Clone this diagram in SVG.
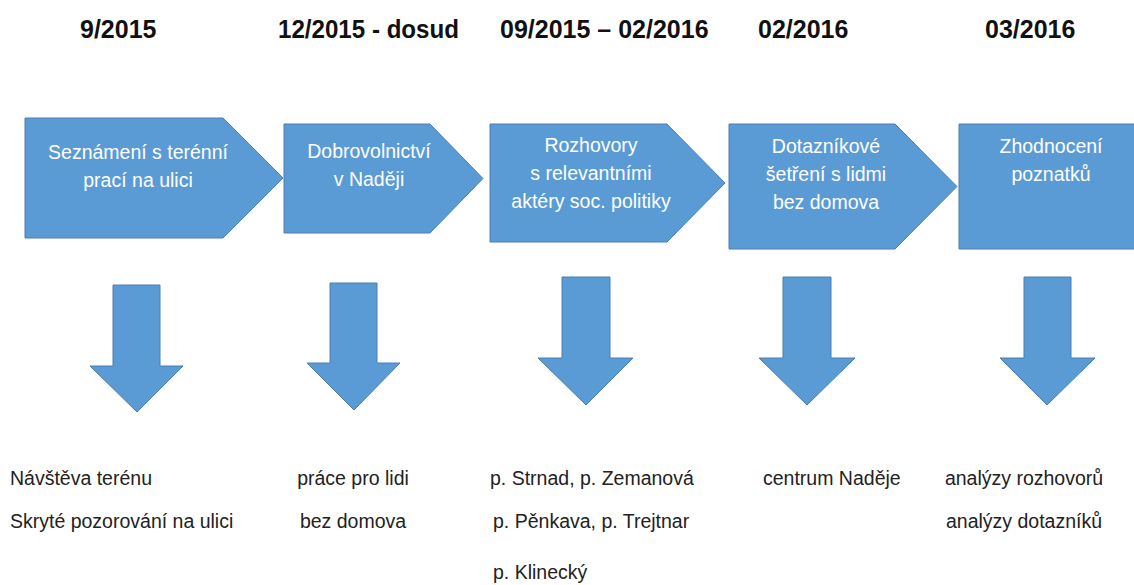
<svg xmlns="http://www.w3.org/2000/svg" width="1134" height="585" viewBox="0 0 1134 585">
<style>
.shape{fill:#5B9BD5;stroke:#4A7FB5;stroke-width:1}
.hdr{font-family:"Liberation Sans",Arial,sans-serif;font-weight:bold;font-size:25px;fill:#111}
.bx{font-family:"Liberation Sans",Arial,sans-serif;font-size:19.5px;fill:#FFFFFF;text-anchor:middle}
.bt{font-family:"Liberation Sans",Arial,sans-serif;font-size:19.5px;fill:#222}
.c{text-anchor:middle}
</style>
<rect width="1134" height="585" fill="#FFFFFF"/>
<g id="headers">
<text class="hdr" x="80" y="38">9/2015</text>
<text class="hdr" x="278" y="38" textLength="181" lengthAdjust="spacingAndGlyphs">12/2015 - dosud</text>
<text class="hdr" x="500" y="38">09/2015 – 02/2016</text>
<text class="hdr" x="758" y="38">02/2016</text>
<text class="hdr" x="985" y="38">03/2016</text>
</g>
<g id="step1">
<polygon class="shape" points="25,118 223,118 283,178 223,238 25,238"/>
<text class="bx" x="138" y="159">Seznámení s terénní</text>
<text class="bx" x="138" y="187">prací na ulici</text>
</g>
<g id="step2">
<polygon class="shape" points="284,124 430,124 483,178.5 430,233 284,233"/>
<text class="bx" x="369" y="158">Dobrovolnictví</text>
<text class="bx" x="369" y="186">v Naději</text>
</g>
<g id="step3">
<polygon class="shape" points="490,124 667,124 725,183 667,242 490,242"/>
<text class="bx" x="591" y="152">Rozhovory</text>
<text class="bx" x="591" y="180">s relevantními</text>
<text class="bx" x="591" y="208">aktéry soc. politiky</text>
</g>
<g id="step4">
<polygon class="shape" points="729,124 895,124 957,186.5 895,249 729,249"/>
<text class="bx" x="826" y="153">Dotazníkové</text>
<text class="bx" x="826" y="181">šetření s lidmi</text>
<text class="bx" x="826" y="209">bez domova</text>
</g>
<g id="step5">
<polygon class="shape" points="959,124 1140,124 1140,249 959,249"/>
<text class="bx" x="1051" y="153">Zhodnocení</text>
<text class="bx" x="1051" y="181">poznatků</text>
</g>
<g id="connectors">
<polygon class="shape" points="113,285 160,285 160,366 183,366 137,412 90,366 113,366"/>
<polygon class="shape" points="330,283 377,283 377,363 400,363 354,410 307,363 330,363"/>
<polygon class="shape" points="562,277 610,277 610,358 633,358 586,405 538,358 562,358"/>
<polygon class="shape" points="783,277 831,277 831,358 855,358 807,405 759,358 783,358"/>
<polygon class="shape" points="1024,277 1071,277 1071,358 1095,358 1047,405 1000,358 1024,358"/>
</g>
<g id="details1">
<text class="bt" x="10" y="485">Návštěva terénu</text>
<text class="bt" x="10" y="528">Skryté pozorování na ulici</text>
</g>
<g id="details2">
<text class="bt c" x="353" y="485">práce pro lidi</text>
<text class="bt c" x="353" y="528">bez domova</text>
</g>
<g id="details3">
<text class="bt" x="490" y="485">p. Strnad, p. Zemanová</text>
<text class="bt" x="493" y="528">p. Pěnkava, p. Trejtnar</text>
<text class="bt" x="493" y="579">p. Klinecký</text>
</g>
<g id="details4">
<text class="bt" x="763" y="485">centrum Naděje</text>
</g>
<g id="details5">
<text class="bt c" x="1024" y="485">analýzy rozhovorů</text>
<text class="bt c" x="1024" y="528">analýzy dotazníků</text>
</g>
</svg>
